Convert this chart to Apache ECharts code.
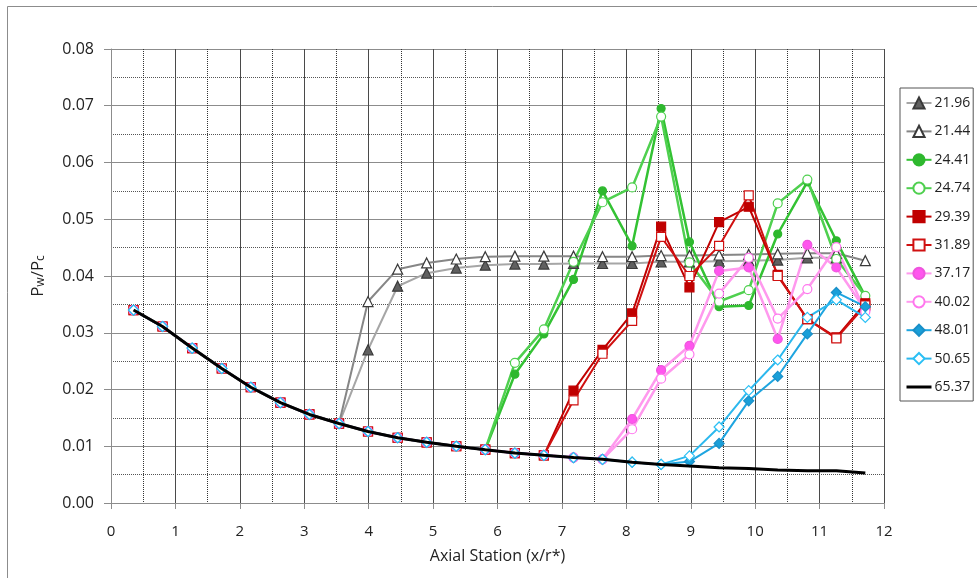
<!DOCTYPE html>
<html>
<head>
<meta charset="utf-8">
<script src="https://cdn.jsdelivr.net/npm/echarts@6/dist/echarts.min.js"></script>
<style>html,body{margin:0;padding:0;background:#fff}#c{width:977px;height:578px}</style>
</head>
<body>
<div id="c"></div>
<script>
// Axial stations (x/r*)
const stations = [0.35, 0.80, 1.26, 1.72, 2.17, 2.63, 3.08, 3.54, 3.99, 4.45, 4.90, 5.36, 5.81, 6.27, 6.72, 7.18, 7.63, 8.09, 8.54, 8.98, 9.44, 9.90, 10.35, 10.81, 11.26, 11.71];
const seriesNames = ['21.96', '21.44', '24.41', '24.74', '29.39', '31.89', '37.17', '40.02', '48.01', '50.65', '65.37'];
const xTicks = [0, 1, 2, 3, 4, 5, 6, 7, 8, 9, 10, 11, 12];
const yTicks = [0.00, 0.01, 0.02, 0.03, 0.04, 0.05, 0.06, 0.07, 0.08];

const v2196 = [null, null, null, null, null, null, null, 0.0140, 0.0270, 0.0382, 0.0405, 0.0414, 0.0419, 0.0421, 0.0421, 0.0422, 0.0422, 0.0422, 0.0425, 0.0425, 0.0426, 0.0427, 0.0428, 0.0432, 0.0432, null];
const v2144 = [null, null, null, null, null, null, null, 0.0140, 0.0355, 0.0412, 0.0423, 0.0430, 0.0434, 0.0435, 0.0435, 0.0435, 0.0434, 0.0434, 0.0436, 0.0436, 0.0437, 0.0438, 0.0439, 0.0440, 0.0440, 0.0427];
const v2441 = [0.0340, 0.0311, 0.0273, 0.0237, 0.0204, 0.0177, 0.0156, 0.0140, 0.0126, 0.0115, 0.0107, 0.0100, 0.0094, 0.0227, 0.0298, 0.0394, 0.0550, 0.0453, 0.0695, 0.0460, 0.0346, 0.0348, 0.0474, 0.0566, 0.0462, 0.0364];
const v2474 = [0.0340, 0.0311, 0.0273, 0.0237, 0.0204, 0.0177, 0.0156, 0.0140, 0.0126, 0.0115, 0.0107, 0.0100, 0.0094, 0.0247, 0.0306, 0.0425, 0.0530, 0.0556, 0.0681, 0.0424, 0.0355, 0.0375, 0.0528, 0.0570, 0.0430, 0.0365];
const v2939 = [0.0340, 0.0311, 0.0273, 0.0237, 0.0204, 0.0177, 0.0156, 0.0140, 0.0126, 0.0115, 0.0107, 0.0100, 0.0094, 0.0088, 0.0084, 0.0198, 0.0270, 0.0334, 0.0487, 0.0380, 0.0495, 0.0522, 0.0402, 0.0324, 0.0292, 0.0352];
const v3189 = [0.0340, 0.0311, 0.0273, 0.0237, 0.0204, 0.0177, 0.0156, 0.0140, 0.0126, 0.0115, 0.0107, 0.0100, 0.0094, 0.0088, 0.0084, 0.0181, 0.0263, 0.0321, 0.0469, 0.0400, 0.0453, 0.0542, 0.0400, 0.0324, 0.0290, 0.0348];
const v3717 = [0.0340, 0.0311, 0.0273, 0.0237, 0.0204, 0.0177, 0.0156, 0.0140, 0.0126, 0.0115, 0.0107, 0.0100, 0.0094, 0.0088, 0.0084, 0.0080, 0.0077, 0.0148, 0.0234, 0.0277, 0.0409, 0.0415, 0.0289, 0.0455, 0.0415, 0.0340];
const v4002 = [0.0340, 0.0311, 0.0273, 0.0237, 0.0204, 0.0177, 0.0156, 0.0140, 0.0126, 0.0115, 0.0107, 0.0100, 0.0094, 0.0088, 0.0084, 0.0080, 0.0077, 0.0130, 0.0219, 0.0262, 0.0369, 0.0432, 0.0325, 0.0377, 0.0451, 0.0337];
const v4801 = [0.0340, 0.0311, 0.0273, 0.0237, 0.0204, 0.0177, 0.0156, 0.0140, 0.0126, 0.0115, 0.0107, 0.0100, 0.0094, 0.0088, 0.0084, 0.0080, 0.0077, 0.0072, 0.0068, 0.0073, 0.0105, 0.0180, 0.0223, 0.0298, 0.0371, 0.0346];
const v5065 = [0.0340, 0.0311, 0.0273, 0.0237, 0.0204, 0.0177, 0.0156, 0.0140, 0.0126, 0.0115, 0.0107, 0.0100, 0.0094, 0.0088, 0.0084, 0.0080, 0.0077, 0.0072, 0.0068, 0.0083, 0.0134, 0.0198, 0.0252, 0.0327, 0.0358, 0.0327];
const v6537 = [0.0340, 0.0311, 0.0273, 0.0237, 0.0204, 0.0177, 0.0156, 0.0140, 0.0126, 0.0115, 0.0107, 0.0100, 0.0094, 0.0088, 0.0084, 0.0080, 0.0077, 0.0072, 0.0068, 0.0065, 0.0062, 0.0061, 0.0058, 0.0057, 0.0057, 0.0053];

const allValues = [v2196, v2144, v2441, v2474, v2939, v3189, v3717, v4002, v4801, v5065, v6537];

function pts(vals, hideFirst) {
  const out = [];
  vals.forEach((v, i) => {
    if (v == null) return;
    const p = { value: [stations[i], v] };
    if (hideFirst && out.length === 0) p.symbol = 'none';
    out.push(p);
  });
  return out;
}

const styles = [
  { line: '#a6a6a6', w: 2, sym: 'triangle', size: 10, fill: '#606060', border: '#3a3a3a', hide: true },
  { line: '#868686', w: 2, sym: 'triangle', size: 10, fill: '#ffffff', border: '#3a3a3a', hide: true },
  { line: '#33c233', w: 2.5, sym: 'circle', size: 8, fill: '#2eb82e', border: '#2eb82e' },
  { line: '#4fd04f', w: 2.5, sym: 'circle', size: 9, fill: '#ffffff', border: '#4fd04f' },
  { line: '#c00000', w: 2, sym: 'rect', size: 9, fill: '#c00000', border: '#c00000' },
  { line: '#d01010', w: 2, sym: 'rect', size: 9, fill: '#ffffff', border: '#d01010' },
  { line: '#ff99ee', w: 2.5, sym: 'circle', size: 9, fill: '#ff55ee', border: '#ee55dd' },
  { line: '#ff99ee', w: 2.5, sym: 'circle', size: 9, fill: '#ffffff', border: '#ff77ee' },
  { line: '#1ea5e0', w: 2, sym: 'diamond', size: 10, fill: '#1a9fd8', border: '#1a8fc8' },
  { line: '#2bb8ee', w: 2, sym: 'diamond', size: 10, fill: '#ffffff', border: '#2bc0f5' },
  { line: '#000000', w: 3, sym: 'none', size: 0, fill: '#000', border: '#000' }
];

const series = seriesNames.map((n, k) => {
  const s = styles[k];
  return {
    name: n,
    type: 'line',
    data: pts(allValues[k], !!s.hide),
    symbol: s.sym,
    symbolSize: s.size,
    showSymbol: s.sym !== 'none',
    lineStyle: { color: s.line, width: s.w },
    itemStyle: { color: s.fill, borderColor: s.border, borderWidth: 1.2 },
    color: s.line,
    z: k === 10 ? 5 : 2,
    emphasis: { disabled: true },
    animation: false
  };
});

const legendData = seriesNames.map((n, k) => styles[k].sym === 'none'
  ? { name: n, itemStyle: { opacity: 0 }, lineStyle: { opacity: 1, color: '#000', width: 3 } }
  : { name: n });

const chart = echarts.init(document.getElementById('c'), null, { renderer: 'canvas' });
chart.setOption({
  backgroundColor: '#fff',
  animation: false,
  textStyle: { fontFamily: 'Open Sans' },
  graphic: [{
    type: 'rect', silent: true, z: -1,
    shape: { x: 7.5, y: 6.5, width: 1000, height: 620 },
    style: { fill: 'none', stroke: '#8c8c8c', lineWidth: 1 }
  }],
  grid: { left: 111, right: 93, top: 49, bottom: 75, containLabel: false },
  legend: {
    orient: 'vertical',
    left: 900, top: 88,
    padding: [8, 3, 7, 5],
    itemWidth: 25, itemHeight: 14, itemGap: 14.4,
    borderColor: '#555', borderWidth: 1,
    textStyle: { fontFamily: 'Open Sans', fontSize: 14, color: '#222', padding: [0, 0, 0, -2] },
    data: legendData
  },
  xAxis: {
    type: 'value', min: xTicks[0], max: xTicks[xTicks.length - 1], interval: 1,
    name: 'Axial Station (x/r*)', nameLocation: 'middle', nameGap: 45,
    nameTextStyle: { fontFamily: 'Open Sans', fontSize: 16, color: '#222' },
    axisLine: { show: true, onZero: false, lineStyle: { color: '#8c8c8c' } },
    axisTick: { show: true, length: 6, lineStyle: { color: '#8c8c8c' } },
    axisLabel: { margin: 21, fontFamily: 'Open Sans', fontSize: 15, color: '#222' },
    splitLine: { show: true, lineStyle: { color: '#4a4a4a', width: 1 } },
    minorTick: { show: false, splitNumber: 2 },
    minorSplitLine: { show: true, lineStyle: { color: '#333', type: 'dotted', width: 1 } }
  },
  yAxis: {
    type: 'value', min: yTicks[0], max: yTicks[yTicks.length - 1], interval: 0.01,
    name: '{a|P}{s|w}{a|/P}{s|c}', nameLocation: 'middle', nameGap: 64,
    nameTextStyle: {
      rich: {
        a: { fontFamily: 'Open Sans', fontSize: 17, color: '#222', lineHeight: 22, verticalAlign: 'bottom' },
        s: { fontFamily: 'Open Sans', fontSize: 12, color: '#222', lineHeight: 14, verticalAlign: 'bottom' }
      }
    },
    axisLine: { show: true, lineStyle: { color: '#8c8c8c' } },
    axisTick: { show: true, length: 7, lineStyle: { color: '#8c8c8c' } },
    axisLabel: { margin: 17, fontFamily: 'Open Sans', fontSize: 16, color: '#222', formatter: v => v.toFixed(2) },
    splitLine: { show: true, lineStyle: { color: '#8c8c8c', width: 1 } },
    minorTick: { show: false, splitNumber: 2 },
    minorSplitLine: { show: true, lineStyle: { color: '#555', type: 'dotted', width: 1 } }
  },
  series: series
});
</script>
</body>
</html>
